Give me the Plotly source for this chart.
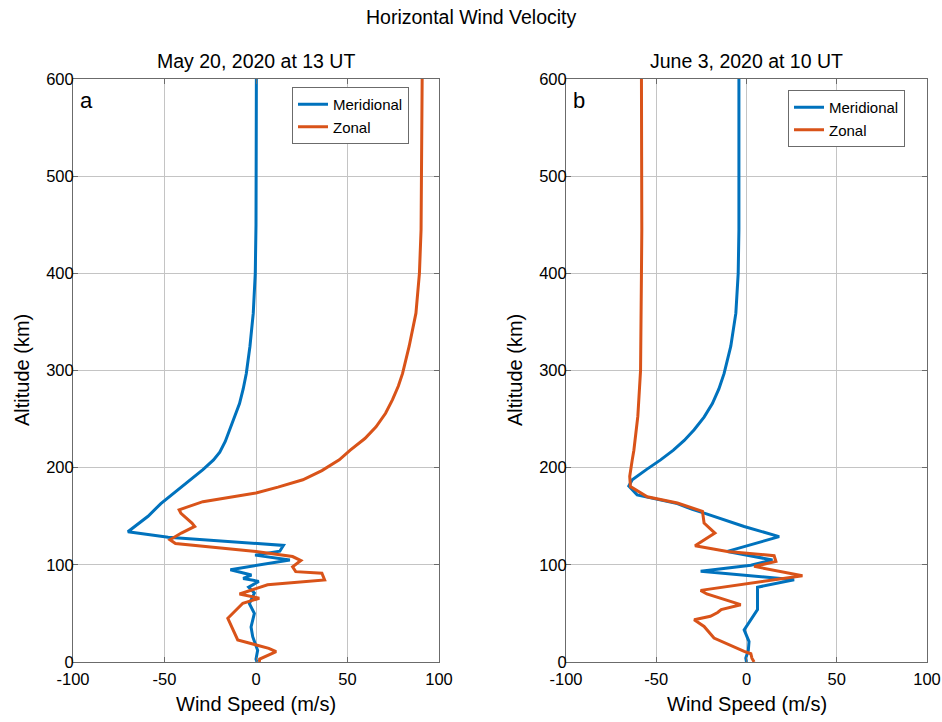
import plotly.graph_objects as go

# ---------------- data ----------------
alt_a_mer = [0, 3, 12, 26, 36, 50, 60, 71, 77, 83, 86, 89.5, 95, 105, 110, 114, 120, 128.5, 134,
             150, 163, 172, 181, 190, 198, 208, 216, 227, 239, 252, 266, 281, 297, 325, 359, 400, 450, 520, 600]
mer_a = [0.5, 0, 0.9, -1.8, -2.7, -0.9, -3.6, -0.9, -4, 1.5, -7, -2.5, -14, 18.5, -0.5, 13, 15, -48, -70,
         -59, -52, -46, -40, -34.5, -29, -23.2, -19.8, -16.8, -14.3, -11.5, -9, -7, -5.3, -3.3, -1.5, -0.4,
         0, 0.1, 0.2]

alt_a_zon = [0, 3, 10.6, 14, 22.7, 45, 60.5, 65.6, 70, 79.4, 84.5, 91.4, 93, 98, 104.4, 108.5, 113.7,
             122, 125.8, 132.7, 139.5, 143, 153, 156.7, 165, 174, 180, 187.5, 197, 208, 218, 230, 242, 256, 270,
             284, 297, 325, 359, 400, 445, 520, 600]
zon_a = [1.8, 2, 11, 7, -10, -15.4, -7.2, 1.8, -9, 6.3, 37.5, 36, 21.7, 20, 24.5, 20, 0,
         -44, -47, -40.8, -33.5, -35, -41, -42, -29, 0, 12, 25.6, 36, 45.5, 51.5, 59.5, 65.6, 70.8, 74.6,
         77.8, 80.1, 83.7, 87.4, 89.3, 90.2, 90.6, 90.8]

alt_b_mer = [0, 4, 12, 21, 33, 45, 54, 77, 84.7, 93.5, 99.5, 105, 113.8, 129, 139.5, 153, 157, 163,
             172, 181, 187.5, 198, 208, 218, 228, 239, 252, 266, 281, 297, 325, 359, 400, 445, 520, 600]
mer_b = [0, -0.4, 1, 1.4, -1.3, 3, 6.1, 6.1, 26.4, -25.4, 2.4, 14.4, -10.6, 18.1, -1.3, -23, -30, -38.3,
         -60.6, -65.2, -63.3, -55.5, -47.6, -40.5, -34.5, -29, -23.5, -18.9, -15.3, -12.4, -8.7, -5.9, -4.6,
         -4.2, -4.2, -4.2]

alt_b_zon = [0, 4, 8.5, 11, 24.7, 36.6, 43.5, 47, 51, 54, 59, 62, 70, 73.7, 88.8, 98.4, 103.5, 109.4,
             113.8, 119.7, 132.7, 143, 155, 163.6, 170, 180.6, 191, 208, 218, 253, 300, 400, 445, 520, 600]
zon_b = [4.2, 3, 2.4, -1.3, -18, -23.5, -29, -20, -16, -14, -3.2, -8, -22, -25.4, 31, 4.2, 16.3, 15.3,
         -10.6, -28.5, -17.5, -23.5, -24.4, -38.3, -55, -64.3, -64.7, -63.3, -62.4, -60.2, -58.7, -58.2,
         -58, -58.1, -58.2]

x_ticks = [-100, -50, 0, 50, 100]
x_ticktext = ["-100", "-50", "0", "50", "100"]
y_ticks = [0, 100, 200, 300, 400, 500, 600]
y_ticktext = ["0", "100", "200", "300", "400", "500", "600"]
series_names = ["Meridional", "Zonal"]
panel_titles = ["May 20, 2020 at 13 UT", "June 3, 2020 at 10 UT"]
panel_letters = ["a", "b"]
main_title = "Horizontal Wind Velocity"
x_title = "Wind Speed (m/s)"
y_title = "Altitude (km)"

BLUE = "#0072BD"
ORANGE = "#D95319"
FONT = "Liberation Sans, Arial, sans-serif"

W, H = 942, 722
left_px = (73, 439)
right_px = (566, 927)
top_px, bot_px = 79, 662

def dx(p):
    return [p[0] / W, p[1] / W]

ydom = [(H - bot_px) / H, (H - top_px) / H]

fig = go.Figure()
fig.add_trace(go.Scatter(x=mer_a, y=alt_a_mer, mode="lines", name=series_names[0],
                         line=dict(color=BLUE, width=3), xaxis="x", yaxis="y", legend="legend"))
fig.add_trace(go.Scatter(x=zon_a, y=alt_a_zon, mode="lines", name=series_names[1],
                         line=dict(color=ORANGE, width=3), xaxis="x", yaxis="y", legend="legend"))
fig.add_trace(go.Scatter(x=mer_b, y=alt_b_mer, mode="lines", name=series_names[0],
                         line=dict(color=BLUE, width=3), xaxis="x2", yaxis="y2", legend="legend2"))
fig.add_trace(go.Scatter(x=zon_b, y=alt_b_zon, mode="lines", name=series_names[1],
                         line=dict(color=ORANGE, width=3), xaxis="x2", yaxis="y2", legend="legend2"))

axis_common = dict(showline=True, linecolor="#6b6b6b", linewidth=1, mirror="ticks",
                   ticks="inside", ticklen=5, tickcolor="#6b6b6b", automargin=False,
                   showgrid=True, gridcolor="#c4c4c4", gridwidth=1, zeroline=False,
                   tickfont=dict(family=FONT, size=16.5, color="#000"))

xcommon = dict(range=[-100, 100], tickvals=x_ticks, ticktext=x_ticktext, ticklabelstandoff=2, **axis_common)
ycommon = dict(range=[0, 600], tickvals=y_ticks, ticktext=y_ticktext, ticklabelstandoff=-5, **axis_common)

legend_common = dict(xanchor="left", yanchor="top", bgcolor="white", bordercolor="#6b6b6b",
                     borderwidth=1, font=dict(family=FONT, size=15, color="#000"),
                     tracegroupgap=0, itemwidth=30)

fig.update_layout(
    width=W, height=H,
    margin=dict(l=0, r=0, t=0, b=0, autoexpand=False),
    paper_bgcolor="white", plot_bgcolor="white",
    font=dict(family=FONT, color="#000"),
    showlegend=True, hovermode=False,
    xaxis=dict(domain=dx(left_px), anchor="y", **xcommon),
    yaxis=dict(domain=ydom, anchor="x", **ycommon),
    xaxis2=dict(domain=dx(right_px), anchor="y2", **xcommon),
    yaxis2=dict(domain=ydom, anchor="x2", **ycommon),
    legend=dict(x=292 / W, y=1 - 87 / H, **legend_common),
    legend2=dict(x=788 / W, y=1 - 90 / H, **legend_common),
)

ann = []
ann.append(dict(text=main_title, x=471 / W, y=1 - 17 / H, xref="paper", yref="paper",
                showarrow=False, font=dict(size=19.5, family=FONT), xanchor="center", yanchor="middle"))
for px, title, letter in zip([left_px, right_px], panel_titles, panel_letters):
    cx = (px[0] + px[1]) / 2
    ann.append(dict(text=title, x=cx / W, y=1 - 61 / H, xref="paper", yref="paper",
                    showarrow=False, font=dict(size=19.5, family=FONT), xanchor="center", yanchor="middle"))
    ann.append(dict(text=letter, x=(px[0] + 5) / W, y=1 - 100 / H, xref="paper", yref="paper",
                    showarrow=False, font=dict(size=22, family=FONT), xanchor="left", yanchor="middle"))
    ann.append(dict(text=x_title, x=cx / W, y=1 - 704 / H, xref="paper", yref="paper",
                    showarrow=False, font=dict(size=20, family=FONT), xanchor="center", yanchor="middle"))
    ann.append(dict(text=y_title, x=(px[0] - 51) / W, y=1 - 370 / H, xref="paper", yref="paper",
                    showarrow=False, textangle=-90, font=dict(size=20, family=FONT),
                    xanchor="center", yanchor="middle"))
fig.update_layout(annotations=ann)

fig.write_html("out.html",
               config={"displayModeBar": False, "staticPlot": True},
               post_script="document.body.style.margin='0';"
                           "document.documentElement.style.overflow='hidden';")
